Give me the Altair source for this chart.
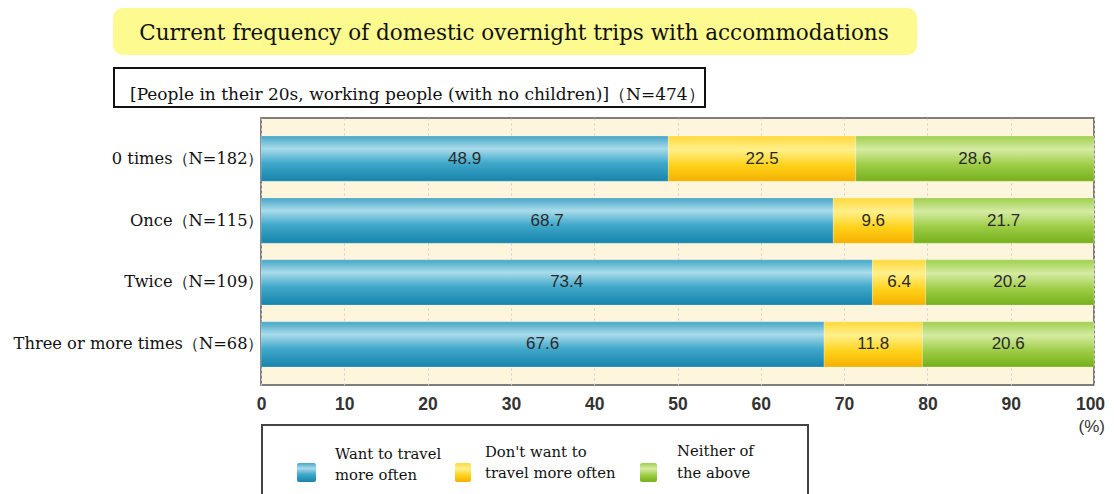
import altair as alt
import pandas as pd

categories = ["0 times（N=182）", "Once（N=115）", "Twice（N=109）", "Three or more times（N=68）"]
series = ["Want to travel more often", "Don't want to travel more often", "Neither of the above"]
want_more = [48.9, 68.7, 73.4, 67.6]
dont_want = [22.5, 9.6, 6.4, 11.8]
neither = [28.6, 21.7, 20.2, 20.6]
x_ticks = [0, 10, 20, 30, 40, 50, 60, 70, 80, 90, 100]

title_text = "Current frequency of domestic overnight trips with accommodations"
subtitle_text = "[People in their 20s, working people (with no children)]（N=474）"

SERIF = "DejaVu Serif"

rows = []
for i, c in enumerate(categories):
    start = 0.0
    for s, vals in zip(series, [want_more, dont_want, neither]):
        v = vals[i]
        rows.append({"cat": c, "series": s, "value": v, "start": start, "end": start + v,
                     "mid": start + v / 2, "label": f"{v:.1f}"})
        start += v
df = pd.DataFrame(rows)

def grad(stops):
    return alt.LinearGradient(gradient="linear", x1=0, x2=0, y1=0, y2=1,
                              stops=[alt.GradientStop(offset=o, color=c) for o, c in stops])

grads = {
    series[0]: grad([(0, "#45a6c6"), (0.28, "#a9dbea"), (0.6, "#40a8ca"), (1, "#1784ab")]),
    series[1]: grad([(0, "#ffd93c"), (0.3, "#fff08c"), (0.65, "#ffd21a"), (1, "#f4b000")]),
    series[2]: grad([(0, "#9fcf4e"), (0.3, "#d5eba3"), (0.65, "#9ccc44"), (1, "#76b01c")]),
}

W, H = 833, 267
ORIGIN_X, ORIGIN_Y = 261, 118

def px(x):
    return x - ORIGIN_X

def py(y):
    return y - ORIGIN_Y

yscale = alt.Scale(domain=categories, paddingInner=0.27, paddingOuter=0.29)
xscale = alt.Scale(domain=[0, 100], nice=False)

x_axis = alt.Axis(values=x_ticks, title=None, grid=True, gridDash=[2, 3],
                  gridColor="#cfcfcf", ticks=False, domain=False, labelFlush=False,
                  labelFont="Liberation Sans", labelFontSize=17.5,
                  labelOffset={"condition": {"test": "datum.value == 100", "value": -4}, "value": 0},
                  labelFontWeight="bold", labelColor="#333", labelPadding=10)
y_axis = alt.Axis(title=None, ticks=False, domain=False, labelFont=SERIF,
                  labelFontSize=16.3, labelColor="#111", labelPadding=-2, labelLimit=400)

base = alt.Chart(df)

bar_layers = []
for s in series:
    bar_layers.append(
        base.transform_filter(alt.datum.series == s)
        .mark_bar(fill=grads[s], stroke="#ffffff", strokeWidth=0.4, strokeOpacity=0.6)
        .encode(
            x=alt.X("start:Q", scale=xscale, axis=x_axis),
            x2="end:Q",
            y=alt.Y("cat:N", scale=yscale, sort=categories, axis=y_axis),
        )
    )

labels = base.mark_text(font="Liberation Sans", fontSize=17, color="#2a2a2a").encode(
    x=alt.X("mid:Q", scale=xscale, axis=x_axis),
    y=alt.Y("cat:N", scale=yscale, sort=categories, axis=y_axis),
    text="label:N",
)

ann = pd.DataFrame({"k": [0]})
a = alt.Chart(ann)

title_box = a.mark_rect(fill="#fdfa8f", cornerRadius=10).encode(
    x=alt.value(px(113)), x2=alt.value(px(917)), y=alt.value(py(8)), y2=alt.value(py(55)))
title = a.mark_text(text=title_text, font=SERIF, fontSize=21.5, color="#111",
                    align="center", baseline="middle").encode(
    x=alt.value(px(514)), y=alt.value(py(34)))

sub_box = a.mark_rect(fill="white", stroke="#111", strokeWidth=2).encode(
    x=alt.value(px(114)), x2=alt.value(px(705)), y=alt.value(py(68)), y2=alt.value(py(107)))
sub = a.mark_text(text=subtitle_text, font=SERIF, fontSize=17, color="#111",
                  align="left", baseline="middle").encode(
    x=alt.value(px(130)), y=alt.value(py(95)))

pct = a.mark_text(text="(%)", font="Liberation Sans", fontSize=17, color="#333",
                  align="right", baseline="middle").encode(
    x=alt.value(px(1105)), y=alt.value(py(427)))

leg_box = a.mark_rect(fill="white", stroke="#444", strokeWidth=2).encode(
    x=alt.value(px(262)), x2=alt.value(px(808)), y=alt.value(py(425)), y2=alt.value(py(500)))

leg_layers = [title_box, title, sub_box, sub, pct, leg_box]
sw_x = [297, 455, 640]
sw_w = [19, 16, 17]
txt_x = [335, 485, 677]
leg_lines = [["Want to travel", "more often"], ["Don't want to", "travel more often"],
             ["Neither of", "the above"]]
txt_y = [(455, 476), (453, 474), (452, 474)]
for i, s in enumerate(series):
    leg_layers.append(a.mark_rect(fill=grads[s], cornerRadius=2).encode(
        x=alt.value(px(sw_x[i])), x2=alt.value(px(sw_x[i] + sw_w[i])),
        y=alt.value(py(463)), y2=alt.value(py(482))))
    for line, yy in zip(leg_lines[i], txt_y[i]):
        leg_layers.append(a.mark_text(text=line, font=SERIF, fontSize=14.8,
                                      color="#111", align="left", baseline="middle").encode(
            x=alt.value(px(txt_x[i])), y=alt.value(py(yy))))

chart = alt.layer(*bar_layers, labels, *leg_layers).properties(
    width=W, height=H,
    autosize=alt.AutoSizeParams(type="none"),
    padding={"left": ORIGIN_X - 8, "top": ORIGIN_Y - 8, "right": 12,
             "bottom": 494 - ORIGIN_Y - H},
    background="white",
).configure_view(fill="#fdf5dc", stroke="#555", strokeWidth=1.5)

chart.save("out.html", embed_options={"renderer": "svg", "actions": False})
